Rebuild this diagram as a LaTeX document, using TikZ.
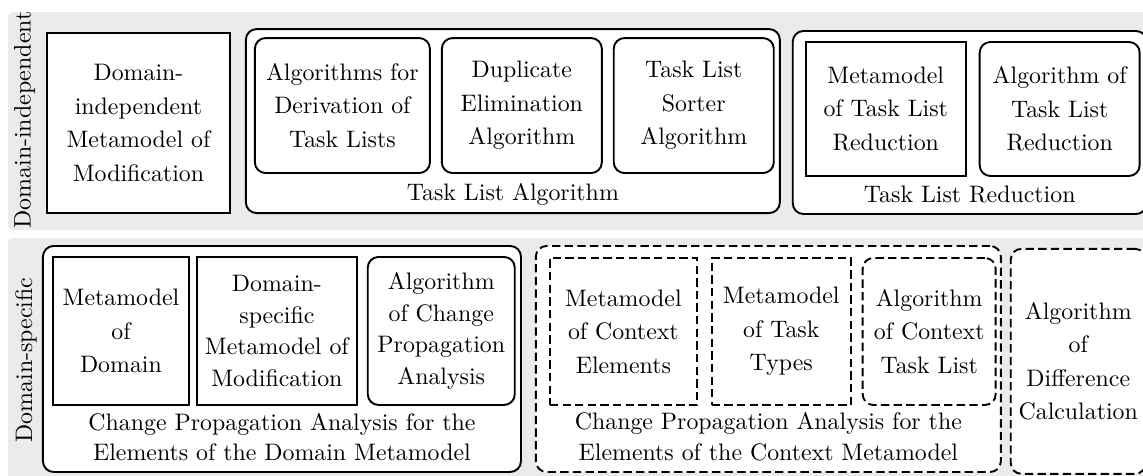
\documentclass[tikz,border=0pt]{standalone}
\usepackage{tikz}
\usetikzlibrary{positioning, backgrounds, fit}
\definecolor{bandGray}{RGB}{235,235,235}

\begin{document}
\begin{tikzpicture}
	[
	node distance=4pt and 4pt,
        modelBox/.style={
            rectangle,
            draw,
            line width=0.8pt,
            fill=white,
            align=center,
            inner sep=0pt,
            font=\fontsize{10}{14}\selectfont
        },
        algorithmBox/.style={
            modelBox,
            rounded corners=4.5pt
        },
        groupBox/.style={
            rectangle,
            rounded corners=4.5pt,
            draw,
            line width=0.8pt,
            fill=white,
            inner sep=0pt
        },
        contextLine/.style={
            dash pattern=on 3.5pt off 1.8pt
        },
        groupCaption/.style={
            align=center,
            inner sep=0pt,
            font=\fontsize{10}{12.8}\selectfont
        },
        sideLabel/.style={
            rotate=90,
            inner sep=0pt
        },
        band/.style={
            fill=bandGray,
            rounded corners=2pt
        }
    ]
    \useasboundingbox (0,0) rectangle (479.25pt,-199.16pt);
    \fill[band] (3.35pt,-5.03pt) rectangle (482pt,-96.44pt);
    \fill[band] (3.35pt,-99.79pt) rectangle (482pt,-202pt);

    \node(independentLabel) [sideLabel] at (10.3pt,-50.3pt) {Domain-independent};
    \node(specificLabel) [sideLabel] at (10.9pt,-151pt) {Domain-specific};

    % domain-independent part
    \node(genericModification) [modelBox, anchor=north west, minimum width=76.73pt, minimum height=75.47pt] at (19.29pt,-13.42pt) {Domain-\\independent\\Metamodel of\\Modification};
    \node(taskListAlgorithm) [groupBox, right=5.87pt of genericModification, yshift=0.8pt, minimum width=223.9pt, minimum height=77.15pt] {};
    \node(derivation) [algorithmBox, below right=3.77pt and 3.77pt of taskListAlgorithm.north west, minimum width=73.4pt, minimum height=56.6pt] {Algorithms for\\Derivation of\\Task Lists};
    \node(duplicates) [algorithmBox, right=4.19pt of derivation, minimum width=67.1pt, minimum height=56.6pt] {Duplicate\\Elimination\\Algorithm};
    \node(sorter) [algorithmBox, right=4.19pt of duplicates, minimum width=67.1pt, minimum height=56.6pt] {Task List\\Sorter\\Algorithm};
    \node(taskListAlgorithmCaption) [groupCaption, above=3.4pt of taskListAlgorithm.south] {Task List Algorithm};

    \node(taskListReduction) [groupBox, right=4.61pt of taskListAlgorithm, yshift=-0.6pt, minimum width=148.4pt, minimum height=76.73pt] {};
    \node(reductionModel) [modelBox, below right=4.61pt and 5.45pt of taskListReduction.north west, minimum width=67.09pt, minimum height=56.18pt] {Metamodel\\of Task List\\Reduction};
    \node(reductionAlgorithm) [algorithmBox, right=5.03pt of reductionModel, minimum width=67.09pt, minimum height=56.18pt] {Algorithm of\\Task List\\Reduction};
    \node(taskListReductionCaption) [groupCaption, above=4.7pt of taskListReduction.south] {Task List Reduction};

    % domain-specific part
    \node(domainAnalysis) [groupBox, anchor=north west, minimum width=200.42pt, minimum height=94.76pt] at (17.61pt,-102.73pt) {};
    \node(domainModel) [modelBox, below right=4.61pt and 4.19pt of domainAnalysis.north west, minimum width=57.02pt, minimum height=62.05pt] {Metamodel\\of\\Domain};
    \node(specificModification) [modelBox, right=2.52pt of domainModel, minimum width=67.09pt, minimum height=62.05pt, font=\fontsize{10}{13.3}\selectfont] {Domain-\\specific\\Metamodel of\\Modification};
    \node(propagationAlgorithm) [algorithmBox, right=3.77pt of specificModification, minimum width=61.64pt, minimum height=62.05pt, font=\fontsize{10}{13.3}\selectfont] {Algorithm\\of Change\\Propagation\\Analysis};
    \node(domainAnalysisCaption) [groupCaption, above=4.8pt of domainAnalysis.south] {Change Propagation Analysis for the\\Elements of the Domain Metamodel};

    \node(contextAnalysis) [groupBox, contextLine, right=5.45pt of domainAnalysis, minimum width=194.97pt, minimum height=94.76pt] {};
    \node(contextElements) [modelBox, contextLine, below right=5.03pt and 5.87pt of contextAnalysis.north west, minimum width=61.64pt, minimum height=61.64pt] {Metamodel\\of Context\\Elements};
    \node(taskTypes) [modelBox, contextLine, right=5.45pt of contextElements, minimum width=58.28pt, minimum height=61.64pt] {Metamodel\\of Task\\Types};
    \node(contextAlgorithm) [algorithmBox, contextLine, right=4.19pt of taskTypes, minimum width=55.77pt, minimum height=61.64pt] {Algorithm\\of Context\\Task List};
    \node(contextAnalysisCaption) [groupCaption, above=4.8pt of contextAnalysis.south] {Change Propagation Analysis for the\\Elements of the Context Metamodel};

    \node(differenceAlgorithm) [algorithmBox, contextLine, right=3.35pt of contextAnalysis, yshift=-1pt, minimum width=56.6pt, minimum height=94.34pt] {Algorithm\\of\\Difference\\Calculation};
\end{tikzpicture}
\end{document}
